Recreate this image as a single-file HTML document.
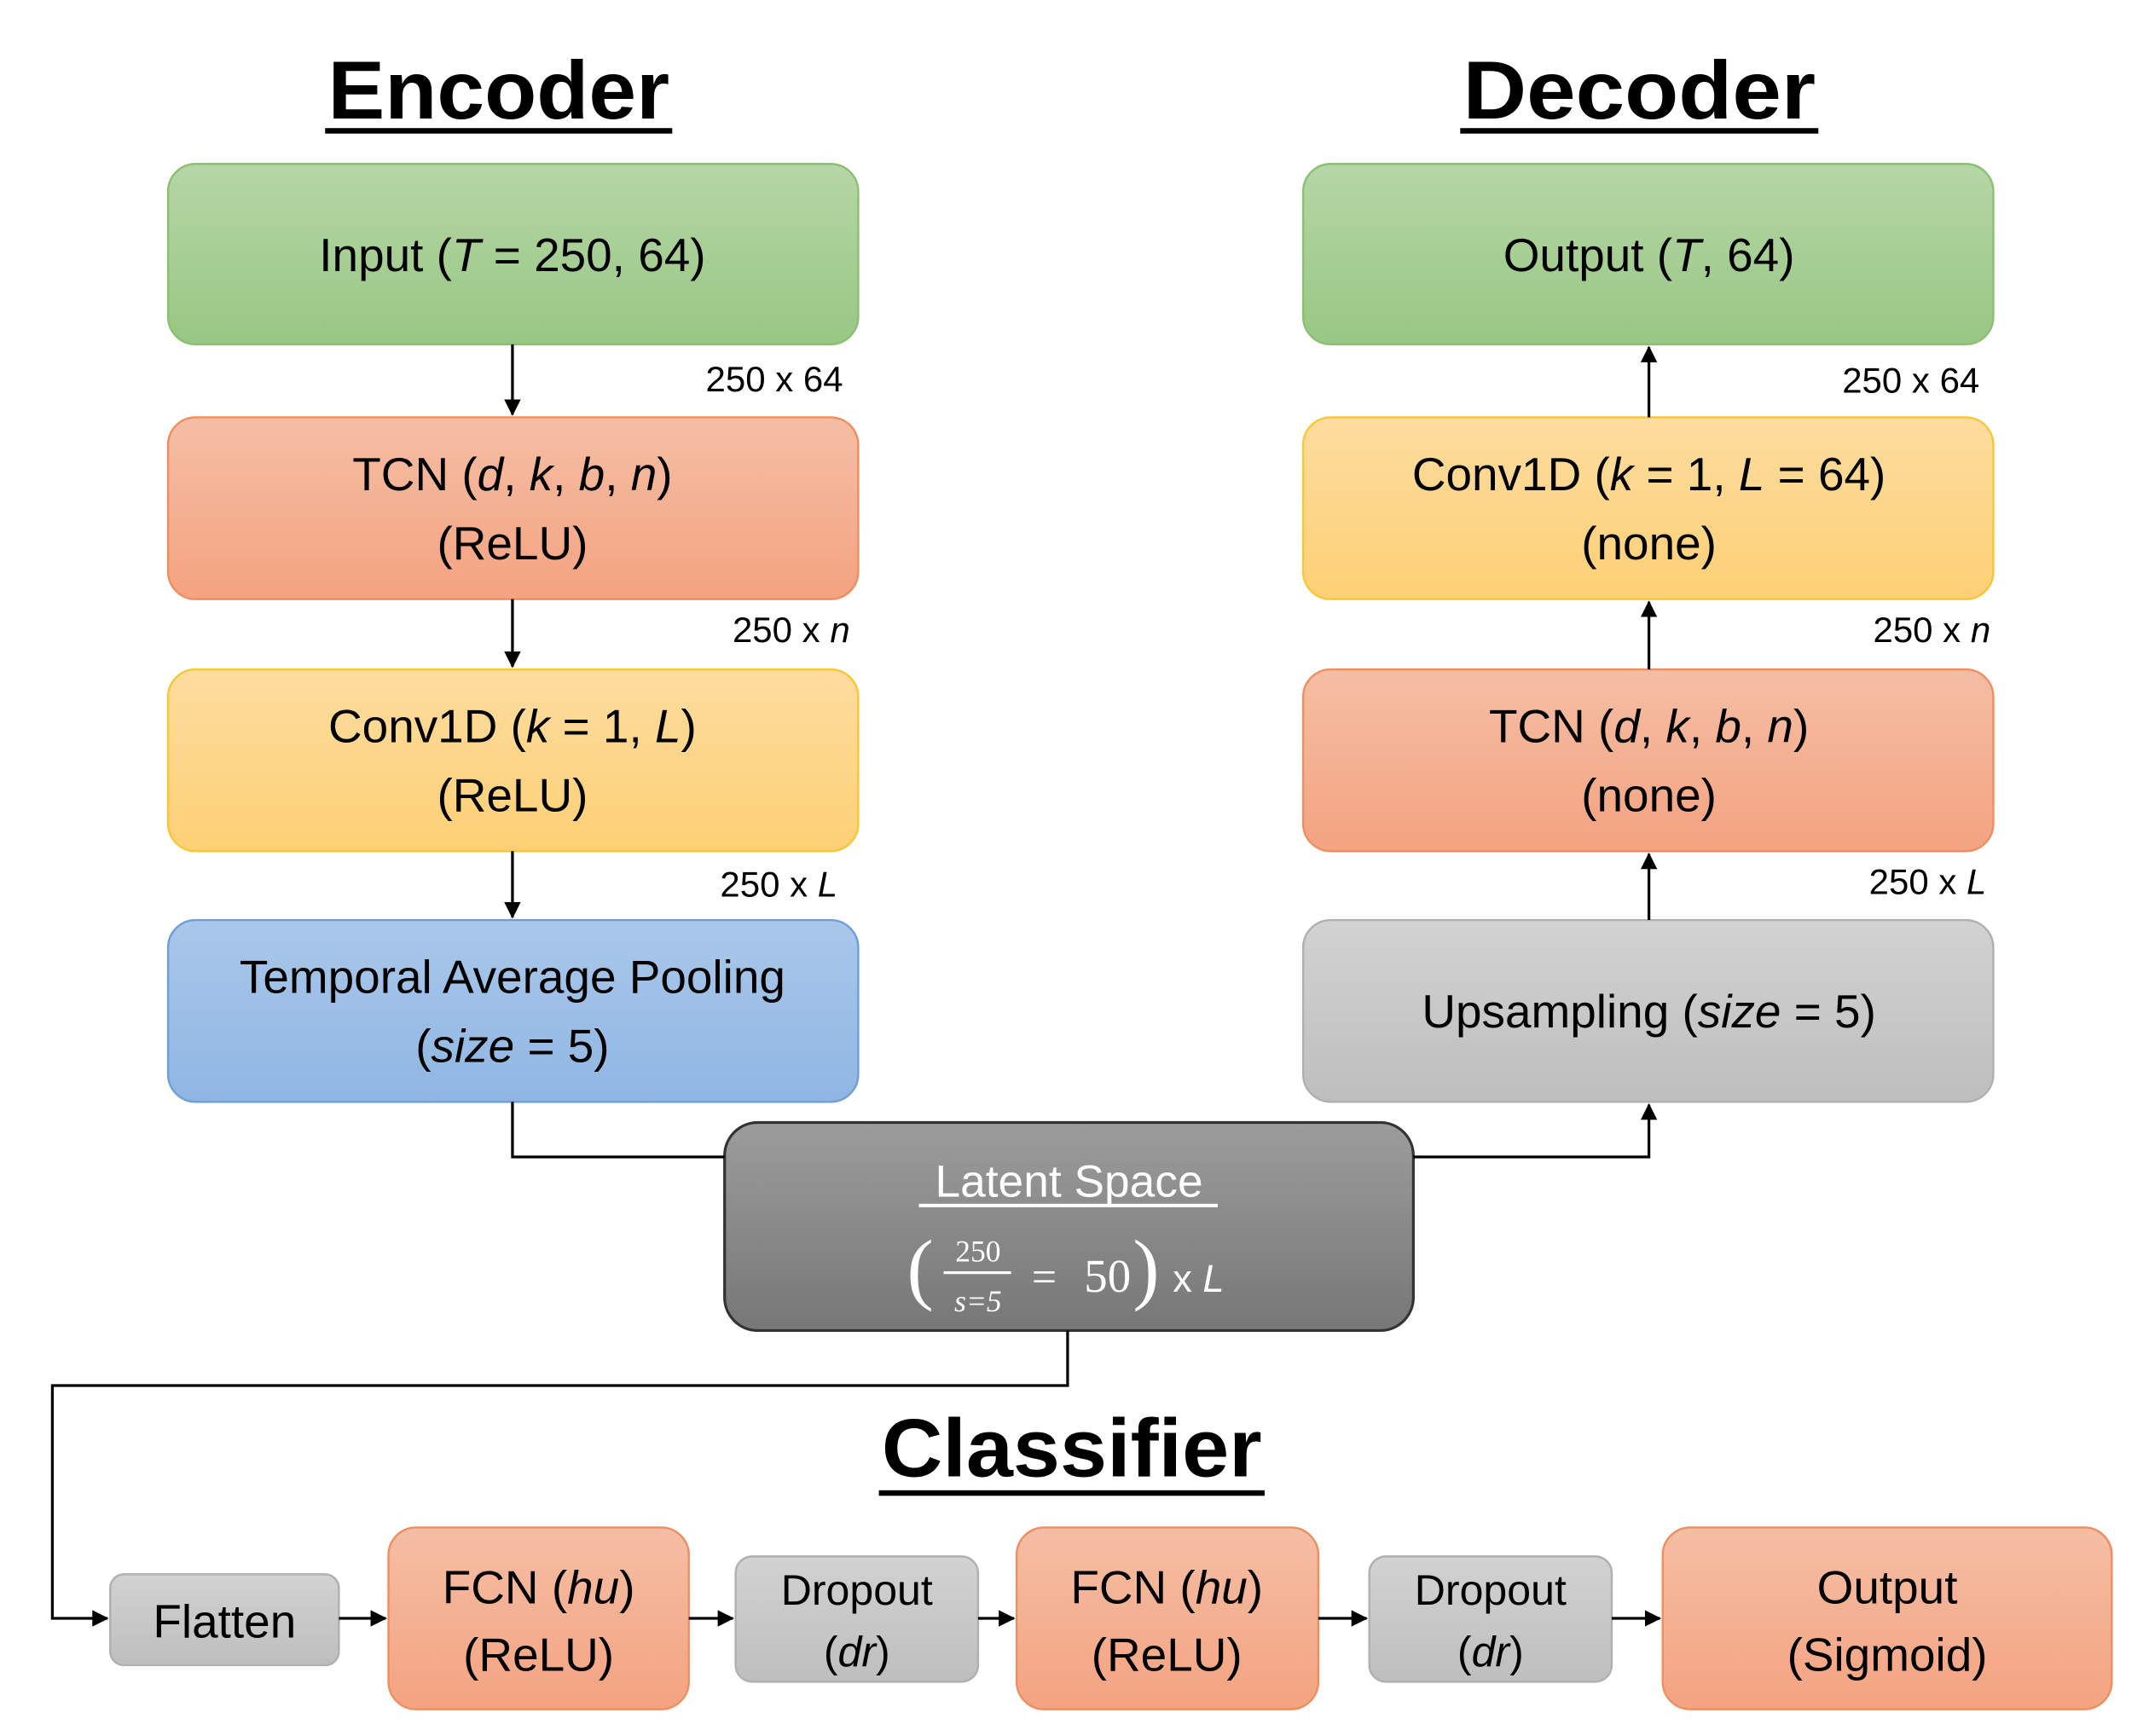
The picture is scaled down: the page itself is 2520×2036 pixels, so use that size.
<!DOCTYPE html>
<html><head><meta charset="utf-8"><style>html,body{margin:0;padding:0;background:#fff}svg{display:block}</style></head>
<body>
<svg width="2520" height="2036" viewBox="0 0 1560 1260.4" xmlns="http://www.w3.org/2000/svg" font-family="'Liberation Sans', sans-serif">
<defs>
<linearGradient id="g" x1="0" y1="0" x2="0" y2="1"><stop offset="0" stop-color="#b6d6a6"/><stop offset="1" stop-color="#98c784"/></linearGradient>
<linearGradient id="o" x1="0" y1="0" x2="0" y2="1"><stop offset="0" stop-color="#f5bea5"/><stop offset="1" stop-color="#f4a380"/></linearGradient>
<linearGradient id="y" x1="0" y1="0" x2="0" y2="1"><stop offset="0" stop-color="#fddc9f"/><stop offset="1" stop-color="#fdd076"/></linearGradient>
<linearGradient id="b" x1="0" y1="0" x2="0" y2="1"><stop offset="0" stop-color="#aac7eb"/><stop offset="1" stop-color="#8fb6e2"/></linearGradient>
<linearGradient id="s" x1="0" y1="0" x2="0" y2="1"><stop offset="0" stop-color="#d2d2d2"/><stop offset="1" stop-color="#bebebe"/></linearGradient>
<linearGradient id="d" x1="0" y1="0" x2="0" y2="1"><stop offset="0" stop-color="#9c9c9c"/><stop offset="1" stop-color="#777"/></linearGradient>
<marker id="a" markerWidth="8" markerHeight="8" refX="7" refY="4" orient="auto" markerUnits="userSpaceOnUse"><path d="M0,0 L8,4 L0,8 z" fill="#000"/></marker>
<marker id="a2" markerWidth="12" markerHeight="12" refX="11" refY="6" orient="auto" markerUnits="userSpaceOnUse"><path d="M0,0 L12,6 L0,12 z" fill="#000"/></marker>
</defs>

<g font-weight="bold" font-size="60" text-anchor="middle">
<text x="362" y="86" textLength="248" lengthAdjust="spacingAndGlyphs">Encoder</text>
<text x="1190" y="86" textLength="256" lengthAdjust="spacingAndGlyphs">Decoder</text>
<text x="778" y="1072" textLength="276" lengthAdjust="spacingAndGlyphs">Classifier</text>
</g>
<rect x="236" y="93" width="252" height="4" fill="#000"/>
<rect x="1060" y="93" width="260" height="4" fill="#000"/>
<rect x="638" y="1082" width="280" height="4" fill="#000"/>

<g stroke-width="1.5">
<rect x="122" y="119" width="501" height="131" rx="20" fill="url(#g)" stroke="#8dbf73"/>
<rect x="122" y="303" width="501" height="132" rx="20" fill="url(#o)" stroke="#ef8e5f"/>
<rect x="122" y="486" width="501" height="132" rx="20" fill="url(#y)" stroke="#f9c634"/>
<rect x="122" y="668" width="501" height="132" rx="20" fill="url(#b)" stroke="#6f9fd8"/>
<rect x="946" y="119" width="501" height="131" rx="20" fill="url(#g)" stroke="#8dbf73"/>
<rect x="946" y="303" width="501" height="132" rx="20" fill="url(#y)" stroke="#f9c634"/>
<rect x="946" y="486" width="501" height="132" rx="20" fill="url(#o)" stroke="#ef8e5f"/>
<rect x="946" y="668" width="501" height="132" rx="20" fill="url(#s)" stroke="#b0b0b0"/>
<rect x="526" y="815" width="500" height="151" rx="24" fill="url(#d)" stroke="#333" stroke-width="2"/>
<rect x="80" y="1143" width="166" height="66" rx="10" fill="url(#s)" stroke="#b0b0b0"/>
<rect x="282" y="1109" width="218" height="132" rx="20" fill="url(#o)" stroke="#ef8e5f"/>
<rect x="534" y="1130" width="176" height="91" rx="12" fill="url(#s)" stroke="#b0b0b0"/>
<rect x="738" y="1109" width="219" height="132" rx="20" fill="url(#o)" stroke="#ef8e5f"/>
<rect x="994" y="1130" width="176" height="91" rx="12" fill="url(#s)" stroke="#b0b0b0"/>
<rect x="1207" y="1109" width="326" height="132" rx="20" fill="url(#o)" stroke="#ef8e5f"/>
</g>

<g stroke="#000" stroke-width="2" fill="none">
<line x1="372" y1="250" x2="372" y2="301" marker-end="url(#a2)"/>
<line x1="372" y1="435" x2="372" y2="484" marker-end="url(#a2)"/>
<line x1="372" y1="618" x2="372" y2="666" marker-end="url(#a2)"/>
<polyline points="372,800 372,840 526,840"/>
<line x1="1197" y1="303" x2="1197" y2="252" marker-end="url(#a2)"/>
<line x1="1197" y1="486" x2="1197" y2="437" marker-end="url(#a2)"/>
<line x1="1197" y1="668" x2="1197" y2="620" marker-end="url(#a2)"/>
<polyline points="1026,840 1197,840 1197,802" marker-end="url(#a2)"/>
<polyline points="775,966 775,1006 38,1006 38,1175 78,1175" marker-end="url(#a2)"/>
<line x1="246" y1="1175" x2="280" y2="1175" marker-end="url(#a2)"/>
<line x1="500" y1="1175" x2="532" y2="1175" marker-end="url(#a2)"/>
<line x1="710" y1="1175" x2="736" y2="1175" marker-end="url(#a2)"/>
<line x1="957" y1="1175" x2="992" y2="1175" marker-end="url(#a2)"/>
<line x1="1170" y1="1175" x2="1205" y2="1175" marker-end="url(#a2)"/>
</g>

<g font-size="26" text-anchor="end" fill="#000">
<text x="612" y="284">250 x 64</text>
<text x="617" y="466">250 x <tspan font-style="italic">n</tspan></text>
<text x="608" y="651">250 x <tspan font-style="italic">L</tspan></text>
<text x="1437" y="285">250 x 64</text>
<text x="1445" y="466">250 x <tspan font-style="italic">n</tspan></text>
<text x="1442" y="649">250 x <tspan font-style="italic">L</tspan></text>
</g>

<g font-size="34" text-anchor="middle" fill="#000">
<text x="372" y="197">Input (<tspan font-style="italic">T</tspan> = 250, 64)</text>
<text x="372" y="356">TCN (<tspan font-style="italic">d</tspan>, <tspan font-style="italic">k</tspan>, <tspan font-style="italic">b</tspan>, <tspan font-style="italic">n</tspan>)</text>
<text x="372" y="406">(ReLU)</text>
<text x="372" y="539">Conv1D (<tspan font-style="italic">k</tspan> = 1, <tspan font-style="italic">L</tspan>)</text>
<text x="372" y="589">(ReLU)</text>
<text x="372" y="721">Temporal Average Pooling</text>
<text x="372" y="771">(<tspan font-style="italic">size</tspan> = 5)</text>
<text x="1197" y="197">Output (<tspan font-style="italic">T</tspan>, 64)</text>
<text x="1197" y="356">Conv1D (<tspan font-style="italic">k</tspan> = 1, <tspan font-style="italic">L</tspan> = 64)</text>
<text x="1197" y="406">(none)</text>
<text x="1197" y="539">TCN (<tspan font-style="italic">d</tspan>, <tspan font-style="italic">k</tspan>, <tspan font-style="italic">b</tspan>, <tspan font-style="italic">n</tspan>)</text>
<text x="1197" y="589">(none)</text>
<text x="1197" y="746">Upsampling (<tspan font-style="italic">size</tspan>  = 5)</text>
<text x="163" y="1189">Flatten</text>
<text x="391" y="1164">FCN (<tspan font-style="italic">hu</tspan>)</text>
<text x="391" y="1213">(ReLU)</text>
<text x="847" y="1164">FCN (<tspan font-style="italic">hu</tspan>)</text>
<text x="847" y="1213">(ReLU)</text>
<text x="1370" y="1164">Output</text>
<text x="1370" y="1213">(Sigmoid)</text>
<g font-size="31">
<text x="622" y="1165">Dropout</text>
<text x="622" y="1210">(<tspan font-style="italic">dr</tspan>)</text>
<text x="1082" y="1165">Dropout</text>
<text x="1082" y="1210">(<tspan font-style="italic">dr</tspan>)</text>
</g>
</g>

<g fill="#fff" text-anchor="middle">
<text x="776" y="869" font-size="33">Latent Space</text>
<rect x="667" y="874" width="217" height="2.5"/>
<text x="668" y="940" font-size="58" font-family="'Liberation Serif', serif" font-weight="100">(</text>
<text x="710" y="916" font-size="22" font-family="'Liberation Serif', serif">250</text>
<rect x="685" y="923" width="49" height="2"/>
<text x="710" y="952" font-size="22" font-family="'Liberation Serif', serif" font-style="italic">s=5</text>
<text x="758" y="938" font-size="32" font-family="'Liberation Serif', serif">=</text>
<text x="804" y="938" font-size="34" font-family="'Liberation Serif', serif">50</text>
<text x="832" y="940" font-size="58" font-family="'Liberation Serif', serif">)</text>
<text x="870" y="938" font-size="28">x <tspan font-style="italic">L</tspan></text>
</g>
</svg>
</body></html>
